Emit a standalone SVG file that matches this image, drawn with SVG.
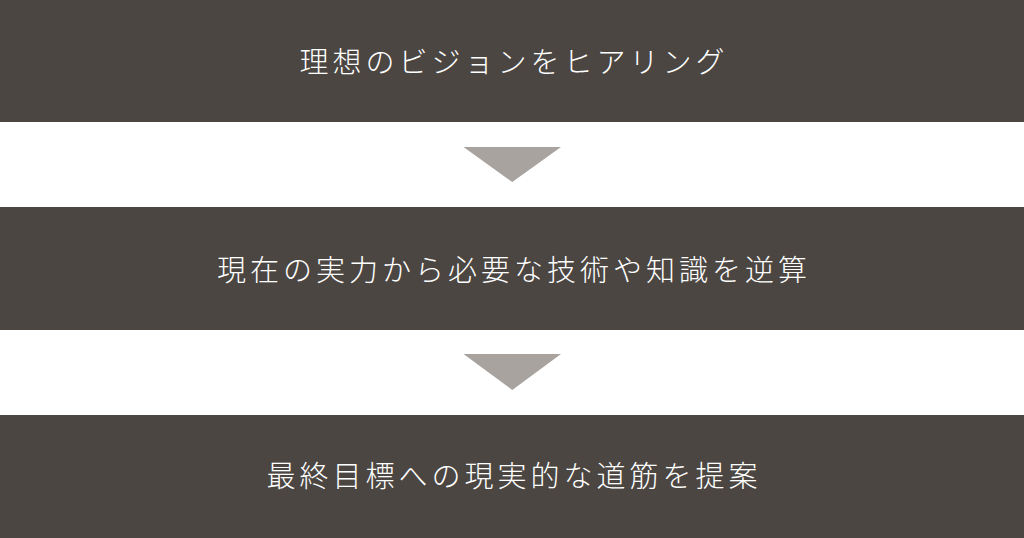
<svg xmlns="http://www.w3.org/2000/svg" width="1024" height="538" viewBox="0 0 1024 538">
  <style>
    .band { fill: #4b4642; }
    .label { fill: #ffffff; font-family: "Noto Sans CJK JP", "Noto Sans", sans-serif; font-size: 29px; font-weight: 300; letter-spacing: 4px; text-anchor: middle; }
    .arrow { fill: #a8a39f; }
  </style>
  <rect x="0" y="0" width="1024" height="538" fill="#ffffff"/>
  <g id="step1">
    <rect class="band" x="0" y="0" width="1024" height="122"/>
    <text class="label" x="514" y="73">理想のビジョンをヒアリング</text>
  </g>
  <g id="step2">
    <rect class="band" x="0" y="207" width="1024" height="123"/>
    <text class="label" x="514" y="281">現在の実力から必要な技術や知識を逆算</text>
  </g>
  <g id="step3">
    <rect class="band" x="0" y="415" width="1024" height="123"/>
    <text class="label" x="514" y="487">最終目標への現実的な道筋を提案</text>
  </g>
  <g id="connectors">
    <polygon class="arrow" points="463.5,147 561,147 512.25,182"/>
    <polygon class="arrow" points="463.5,354 561,354 512.25,390"/>
  </g>
</svg>
